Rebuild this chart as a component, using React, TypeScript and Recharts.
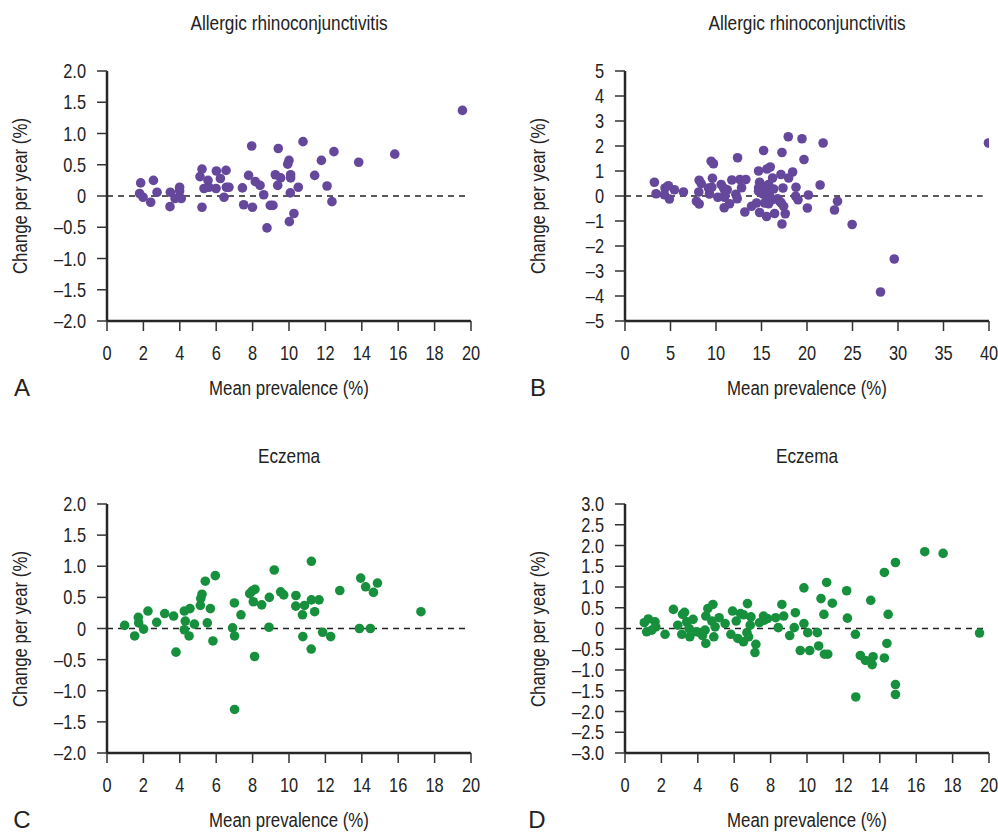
import React from "react";
import { ScatterChart, Scatter, XAxis, YAxis, ReferenceLine } from "recharts";

// Panel A: Allergic rhinoconjunctivitis (0-20 %)
const aX = [1.85, 1.79, 1.98, 2.55, 2.75, 2.4, 3.48, 3.46, 3.74, 3.99, 3.99, 4.08, 5.22, 5.11, 5.55, 5.33, 5.6, 5.22, 6.01, 6.23, 5.99, 6.54, 6.56, 6.7, 6.43, 7.44, 7.78, 7.95, 8.15, 8.41, 8.61, 7.51, 7.99, 8.97, 9.12, 8.79, 9.41, 9.25, 9.54, 9.38, 10.0, 9.93, 10.09, 10.09, 10.07, 10.27, 10.02, 10.51, 10.77, 11.78, 12.47, 11.41, 12.09, 12.36, 13.83, 15.81, 19.53];
const aY = [0.21, 0.04, -0.02, 0.25, 0.06, -0.1, 0.06, -0.17, -0.04, 0.14, 0.08, -0.04, 0.43, 0.31, 0.25, 0.12, 0.14, -0.18, 0.4, 0.28, 0.12, 0.41, 0.14, 0.14, -0.02, 0.13, 0.33, 0.8, 0.23, 0.17, 0.02, -0.14, -0.18, -0.15, -0.15, -0.51, 0.76, 0.34, 0.29, 0.17, 0.57, 0.51, 0.34, 0.29, 0.05, -0.28, -0.41, 0.14, 0.87, 0.57, 0.71, 0.33, 0.16, -0.09, 0.54, 0.67, 1.37];

// Panel B: Allergic rhinoconjunctivitis (0-40 %)
const bX = [3.23, 3.41, 4.4, 4.77, 4.33, 4.88, 5.43, 6.42, 7.85, 8.15, 8.11, 8.15, 8.37, 9.17, 9.28, 9.54, 9.61, 9.47, 9.72, 10.2, 10.57, 10.83, 11.0, 11.23, 10.94, 10.9, 11.49, 11.74, 12.37, 12.18, 12.33, 12.62, 12.81, 13.28, 13.17, 13.91, 14.46, 14.68, 14.79, 14.68, 15.23, 15.6, 15.96, 14.79, 15.56, 15.16, 15.41, 15.78, 15.96, 16.22, 16.33, 15.6, 15.78, 16.15, 16.44, 16.77, 16.99, 17.14, 17.25, 17.36, 17.17, 17.43, 17.61, 17.25, 17.94, 17.98, 18.42, 18.79, 18.75, 19.01, 19.45, 19.67, 20.15, 20.04, 15.34, 15.89, 14.68, 21.77, 21.44, 23.35, 23.02, 24.96, 29.59, 28.08, 39.94];
const bY = [0.55, 0.09, 0.32, 0.41, 0.05, -0.12, 0.25, 0.16, -0.21, -0.32, 0.16, 0.63, 0.5, 0.32, 0.08, 0.35, 0.71, 1.39, 1.29, -0.05, 0.46, 0.32, 0.12, 0.25, -0.05, -0.47, -0.31, 0.64, 1.53, 0.07, -0.11, 0.66, 0.33, 0.66, -0.64, -0.41, -0.28, 0.32, 0.55, 1.0, 1.82, 1.08, 1.16, -0.66, -0.82, 0.08, 0.39, 0.46, 0.25, 0.72, 0.28, -0.15, -0.31, -0.15, -0.7, -0.11, -0.21, 0.86, 1.74, 0.32, -0.28, -0.41, -0.71, -1.12, 2.37, 0.72, 0.96, 0.35, -0.01, -0.15, 2.29, 1.46, 0.04, -0.48, -0.28, -0.01, 0.19, 2.12, 0.44, -0.21, -0.56, -1.14, -2.52, -3.84, 2.12];

// Panel C: Eczema (0-20 %)
const cX = [0.97, 1.52, 1.72, 1.74, 2.01, 2.25, 2.73, 3.17, 3.66, 3.79, 4.25, 4.56, 4.3, 4.25, 4.51, 4.8, 5.13, 5.15, 5.22, 5.4, 5.68, 5.51, 5.82, 5.95, 7.0, 7.36, 6.9, 7.01, 7.01, 7.84, 7.97, 8.13, 8.04, 8.5, 8.11, 8.92, 8.9, 9.19, 9.54, 9.71, 10.38, 10.37, 10.85, 10.74, 11.23, 11.23, 11.65, 11.41, 10.76, 11.22, 11.85, 12.29, 12.79, 13.94, 14.21, 14.64, 14.86, 13.87, 14.47, 17.25];
const cY = [0.05, -0.12, 0.18, 0.09, -0.01, 0.28, 0.1, 0.24, 0.2, -0.38, 0.28, 0.32, 0.12, -0.02, -0.12, 0.07, 0.37, 0.48, 0.55, 0.76, 0.32, 0.09, -0.2, 0.85, 0.41, 0.22, 0.01, -0.12, -1.3, 0.56, 0.6, 0.63, 0.43, 0.38, -0.45, 0.5, 0.02, 0.94, 0.59, 0.54, 0.53, 0.36, 0.37, 0.22, 1.08, 0.46, 0.46, 0.27, -0.13, -0.33, -0.06, -0.13, 0.61, 0.81, 0.67, 0.58, 0.73, 0.0, 0.0, 0.27];

// Panel D: Eczema (0-20 %)
const dX = [1.06, 1.28, 1.19, 1.47, 1.65, 1.69, 2.2, 2.66, 2.9, 3.12, 3.16, 3.27, 3.39, 3.52, 3.56, 3.74, 3.94, 4.13, 4.26, 4.4, 4.44, 4.55, 4.83, 4.77, 4.95, 4.88, 4.44, 5.17, 5.5, 5.82, 5.91, 6.11, 6.2, 6.35, 6.51, 6.51, 6.73, 6.7, 6.79, 6.88, 6.92, 7.19, 7.14, 7.39, 7.61, 7.65, 7.83, 8.28, 8.42, 8.62, 8.72, 9.05, 9.3, 9.36, 9.83, 9.83, 10.04, 9.63, 10.15, 10.57, 10.64, 11.08, 10.77, 11.39, 10.93, 10.96, 11.14, 12.18, 12.22, 12.66, 12.68, 13.5, 12.93, 13.21, 13.58, 13.63, 14.25, 14.46, 14.39, 14.25, 14.86, 14.86, 14.86, 16.47, 17.48, 19.48];
const dY = [0.14, 0.23, -0.08, -0.04, 0.16, 0.04, -0.14, 0.46, 0.08, -0.14, 0.34, 0.39, 0.16, 0.0, -0.2, 0.22, -0.08, -0.1, -0.17, -0.04, 0.3, 0.48, 0.58, 0.18, 0.04, -0.2, -0.36, 0.26, 0.12, -0.14, 0.42, 0.18, -0.24, 0.36, 0.33, -0.32, 0.6, -0.1, -0.2, 0.08, 0.28, -0.38, -0.58, 0.14, 0.3, 0.2, 0.24, 0.26, 0.02, 0.58, 0.3, -0.17, 0.02, 0.38, 0.98, 0.12, -0.1, -0.53, -0.53, -0.1, -0.42, 1.11, 0.72, 0.61, 0.34, -0.62, -0.62, 0.91, 0.25, -0.14, -1.65, 0.68, -0.65, -0.77, -0.87, -0.68, 1.35, 0.34, -0.36, -0.71, 1.59, -1.35, -1.59, 1.85, 1.81, -0.11];

const xTicks20 = [0, 2, 4, 6, 8, 10, 12, 14, 16, 18, 20];
const xTicks40 = [0, 5, 10, 15, 20, 25, 30, 35, 40];
const yTicks2 = [-2, -1.5, -1, -0.5, 0, 0.5, 1, 1.5, 2];
const yTicks5 = [-5, -4, -3, -2, -1, 0, 1, 2, 3, 4, 5];
const yTicks3 = [-3, -2.5, -2, -1.5, -1, -0.5, 0, 0.5, 1, 1.5, 2, 2.5, 3];

const titleAR = "Allergic rhinoconjunctivitis";
const titleEc = "Eczema";
const yLabel = "Change per year (%)";
const xLabel = "Mean prevalence (%)";

const PURPLE = "#65479b";
const GREEN = "#17903e";
const FONT = "'Liberation Sans', Arial, Helvetica, sans-serif";
const TXT = "#222";
const NARROW = 0.82;

const zip = (xs: number[], ys: number[]) => xs.map((x, i) => ({ x, y: ys[i] }));

const fmtDec = (v: number) => (v === 0 ? "0" : (v < 0 ? "\u2013" : "") + Math.abs(v).toFixed(1));
const fmtInt = (v: number) => (v === 0 ? "0" : (v < 0 ? "\u2013" : "") + Math.abs(v).toString());

const XTick = (props: any) => {
  const { x, y, payload } = props;
  return (
    <g transform={`translate(${x},${y})`}>
      <text x={0} y={0} dy={29} textAnchor="middle" fill={TXT} fontFamily={FONT} fontSize={20} transform={`scale(${NARROW},1)`}>
        {payload.value}
      </text>
    </g>
  );
};

const makeYTick = (fmt: (v: number) => string) => (props: any) => {
  const { x, y, payload } = props;
  return (
    <g transform={`translate(${x},${y})`}>
      <text x={0} y={0} dy={7} textAnchor="end" fill={TXT} fontFamily={FONT} fontSize={20} transform={`scale(${NARROW},1)`}>
        {fmt(payload.value)}
      </text>
    </g>
  );
};

const YTickDec = makeYTick(fmtDec);
const YTickInt = makeYTick(fmtInt);

type PanelProps = {
  px: number; py: number; pw: number; ph: number;
  data: { x: number; y: number }[];
  color: string;
  xDomain: [number, number];
  xTicks: number[];
  yDomain: [number, number];
  yTicks: number[];
  yTick: any;
  dashEnd: number;
};

const YW = 110;
const MT = 24;
const MR = 20;
const XH = 50;

const Panel = (p: PanelProps) => {
  const W = p.pw + YW + MR;
  const H = p.ph + MT + XH;
  const dot = (s: any) => <circle cx={s.cx} cy={s.cy} r={4.8} fill={p.color} />;
  return (
    <div style={{ position: "absolute", left: p.px - YW, top: p.py - MT, width: W, height: H }}>
      <ScatterChart width={W} height={H} margin={{ top: MT, right: MR, bottom: 0, left: 0 }} style={{ overflow: "visible" }}>
        <XAxis
          type="number"
          dataKey="x"
          domain={p.xDomain}
          ticks={p.xTicks}
          interval={0}
          allowDataOverflow
          height={XH}
          tickSize={10}
          tickMargin={0}
          axisLine={{ stroke: "#262626", strokeWidth: 2.5 }}
          tickLine={{ stroke: "#333", strokeWidth: 1.5 }}
          tick={XTick}
        />
        <YAxis
          type="number"
          dataKey="y"
          domain={p.yDomain}
          ticks={p.yTicks}
          interval={0}
          allowDataOverflow
          width={YW}
          tickSize={10}
          tickMargin={11}
          axisLine={{ stroke: "#262626", strokeWidth: 2.5 }}
          tickLine={{ stroke: "#333", strokeWidth: 1.5 }}
          tick={p.yTick}
        />
        <ReferenceLine
          segment={[{ x: 0, y: 0 }, { x: p.dashEnd, y: 0 }]}
          stroke="#222"
          strokeWidth={1.5}
          strokeDasharray="6 5"
        />
        <Scatter data={p.data} fill={p.color} shape={dot} isAnimationActive={false} />
      </ScatterChart>
    </div>
  );
};

const Txt = ({ x, y, text, size, rotate = false, narrow = true }: { x: number; y: number; text: string; size: number; rotate?: boolean; narrow?: boolean }) => (
  <div
    style={{
      position: "absolute",
      left: x,
      top: y,
      transform: `translate(-50%,-50%)${rotate ? " rotate(-90deg)" : ""}${narrow ? ` scaleX(${NARROW})` : ""}`,
      fontFamily: FONT,
      fontSize: size,
      color: TXT,
      whiteSpace: "nowrap",
      lineHeight: 1,
    }}
  >
    {text}
  </div>
);

export default function App() {
  return (
    <div style={{ position: "absolute", left: 0, top: 0, width: 998, height: 832, background: "#fff", overflow: "hidden" }}>
      <Panel px={107} py={71} pw={364} ph={250} data={zip(aX, aY)} color={PURPLE} xDomain={[0, 20]} xTicks={xTicks20} yDomain={[-2, 2]} yTicks={yTicks2} yTick={YTickDec} dashEnd={19.7} />
      <Panel px={625} py={71} pw={364} ph={250} data={zip(bX, bY)} color={PURPLE} xDomain={[0, 40]} xTicks={xTicks40} yDomain={[-5, 5]} yTicks={yTicks5} yTick={YTickInt} dashEnd={39.3} />
      <Panel px={107} py={504} pw={364} ph={249} data={zip(cX, cY)} color={GREEN} xDomain={[0, 20]} xTicks={xTicks20} yDomain={[-2, 2]} yTicks={yTicks2} yTick={YTickDec} dashEnd={19.7} />
      <Panel px={625} py={504} pw={364} ph={249} data={zip(dX, dY)} color={GREEN} xDomain={[0, 20]} xTicks={xTicks20} yDomain={[-3, 3]} yTicks={yTicks3} yTick={YTickDec} dashEnd={19.7} />

      <Txt x={289} y={22} text={titleAR} size={21} />
      <Txt x={807} y={22} text={titleAR} size={21} />
      <Txt x={289} y={455} text={titleEc} size={21} />
      <Txt x={807} y={455} text={titleEc} size={21} />

      <Txt x={20} y={196} text={yLabel} size={20.5} rotate />
      <Txt x={538} y={196} text={yLabel} size={20.5} rotate />
      <Txt x={20} y={629} text={yLabel} size={20.5} rotate />
      <Txt x={538} y={629} text={yLabel} size={20.5} rotate />

      <Txt x={289} y={388} text={xLabel} size={20.5} />
      <Txt x={807} y={388} text={xLabel} size={20.5} />
      <Txt x={289} y={820} text={xLabel} size={20.5} />
      <Txt x={807} y={820} text={xLabel} size={20.5} />

      <Txt x={22} y={388} text="A" size={24} narrow={false} />
      <Txt x={538} y={388} text="B" size={24} narrow={false} />
      <Txt x={22} y={820} text="C" size={24} narrow={false} />
      <Txt x={537} y={820} text="D" size={24} narrow={false} />
    </div>
  );
}
